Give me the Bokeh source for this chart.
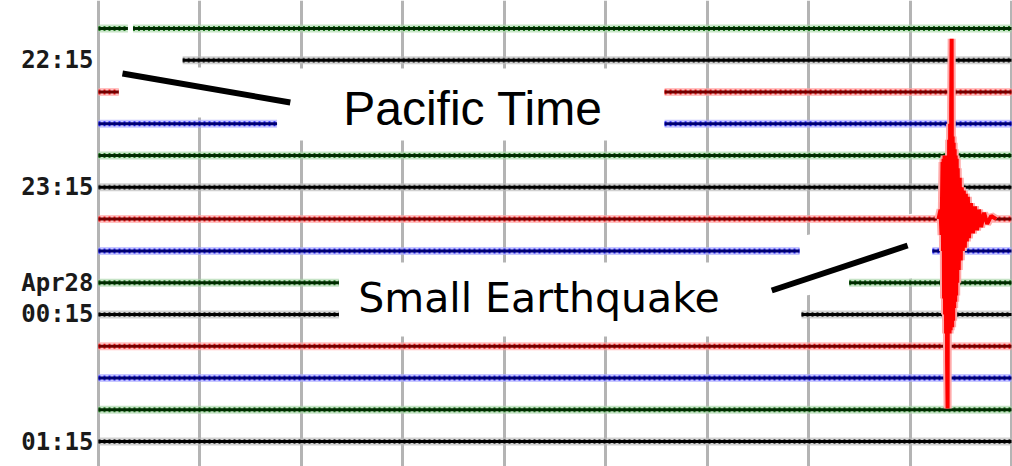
from bokeh.plotting import figure
from bokeh.models import Range1d, FixedTicker, Grid, ColumnDataSource
from bokeh.core.properties import value
from bokeh.embed import file_html
from bokeh.resources import INLINE

# ---------------- data ----------------
# y: trace row (15 minutes per row, row 0 = 22:00); x: seconds within row
row_tick_rows = [1, 5, 8, 9, 13]
row_tick_labels = ["22:15", "23:15", "Apr28", "00:15", "01:15"]
grid_seconds = [0, 100, 200, 300, 400, 500, 600, 700, 800, 900]

# visible recorded pieces of each trace (row, start s, end s)
seg_row = [0, 0, 1, 2, 2, 3, 3, 4, 5, 6, 7, 7, 8, 8, 9, 9, 10, 11, 12, 13]
seg_start = [0, 34, 83, 0, 558, 0, 558, 0, 0, 0, 0, 822, 0, 740, 0, 693, 0, 0, 0, 0]
seg_end = [29, 900, 900, 20, 900, 176, 900, 900, 900, 900, 691, 900, 237, 900, 237, 900, 900, 900, 900, 900]

# the small earthquake on the red trace (row 6): time (s) and amplitude (rows, + = up)
quake_row = 6
quake_t = [828, 830, 831, 832, 832.5, 833, 833.5, 834, 834.5, 835, 835.5, 836, 836.5, 837,
           837.5, 838, 838.5, 839, 839.5, 840, 840.5, 841, 841.5, 842, 842.5, 843, 843.5,
           844, 844.5, 845, 845.5, 846, 846.5, 847, 848, 849, 850, 851, 852, 853, 854, 855,
           856, 857, 858, 860, 862, 864, 866, 868, 870, 873, 876, 880, 885]
quake_amp = [0, 0.3, -0.5, 1.8, -1.0, 1.9, -2.5, 2.0, -3.0, 1.8, -3.6, 2.0, -4.5, -5.96,
             1.5, -3.5, 2.5, -3.6, 3.0, -3.5, 3.5, 5.68, -3.4, 2.6, -3.2, 2.4, -2.8,
             2.2, -2.6, 2.0, -2.4, 1.9, -2.0, 1.6, -1.6, 1.3, -1.3, 1.0, -1.0, 0.9, -0.9, 0.8,
             -0.7, 0.7, -0.6, 0.5, -0.45, 0.4, -0.35, 0.3, -0.25, 0.2, -0.15, 0.1, 0]

note_texts = ["Pacific Time", "Small Earthquake"]

# ---------------- pixel helpers (layout) ----------------
K = 914 / 900.0
def X(px):
    return (px - 98) / K
def Y(px):
    return (px - 28) / 31.77

W, H = 1012, 466
p = figure(width=W, height=H, output_backend="svg", toolbar_location=None,
           x_range=Range1d(X(96), X(W + 1)), y_range=Range1d(Y(H), Y(0)),
           x_axis_location=None, y_axis_location="left",
           min_border_left=96, min_border_right=0, min_border_top=0, min_border_bottom=0,
           outline_line_color=None, background_fill_color="white", border_fill_color="white")
p.grid.visible = False

g = Grid(dimension=0, ticker=FixedTicker(ticks=grid_seconds),
         grid_line_color="#b4b4b4", grid_line_width=3)
p.add_layout(g)

yax = p.yaxis[0]
yax.ticker = FixedTicker(ticks=row_tick_rows)
yax.major_label_overrides = {r: l for r, l in zip(row_tick_rows, row_tick_labels)}
yax.axis_line_color = None
yax.major_tick_line_color = None
yax.minor_tick_line_color = None
yax.major_tick_out = 0
yax.major_tick_in = 0
yax.major_label_standoff = 3
yax.major_label_text_font = "DejaVu Sans Mono"
yax.major_label_text_font_style = "bold"
yax.major_label_text_font_size = "24px"
yax.major_label_text_color = "#1a1a1a"

# white boxes behind the annotation texts
p.quad(left=[X(110), X(290), X(340)], right=[X(290), X(668), X(800)],
       top=[Y(67), Y(68), Y(262)], bottom=[Y(117), Y(140), Y(336)],
       fill_color="white", line_color=None)
p.patch(x=[X(800), X(918), X(918), X(800)], y=[Y(236), Y(212), Y(277), Y(296)],
        fill_color="white", line_color=None)

light = ["#a8d4a8", "#b8b8b8", "#ffa0a0", "#a8a8ff"]
mid = ["#1f7a1f", "#505050", "#ff1010", "#2020ff"]
dark = ["#002a00", "#000000", "#700000", "#000070"]
src = ColumnDataSource(dict(
    x0=seg_start, x1=seg_end, y=seg_row,
    light=[light[r % 4] for r in seg_row],
    mid=[mid[r % 4] for r in seg_row],
    dark=[dark[r % 4] for r in seg_row],
))
p.segment(x0="x0", y0="y", x1="x1", y1="y", line_color="light", line_width=8, line_alpha=0.65, source=src)
p.segment(x0="x0", y0="y", x1="x1", y1="y", line_color="mid", line_width=5, line_dash="2 3", source=src)
p.segment(x0="x0", y0="y", x1="x1", y1="y", line_color="dark", line_width=3, source=src)

qy = [quake_row - a for a in quake_amp]
p.line(quake_t, qy, line_color="#ffaaaa", line_width=8)
p.line(quake_t, qy, line_color="#ff0000", line_width=4)

# pointers
p.line([X(122), X(290)], [Y(73), Y(102)], line_color="black", line_width=6)
p.line([X(772), X(908)], [Y(290), Y(245)], line_color="black", line_width=6)

p.text(x=[X(343)], y=[Y(108)], text=[note_texts[0]], text_font=value("Liberation Sans"),
       text_font_size=value("48px"), text_baseline="alphabetic", text_align="left", text_color="black")
p.text(x=[X(358)], y=[Y(297)], text=[note_texts[1]], text_font=value("DejaVu Sans"),
       text_font_size=value("41px"), text_baseline="alphabetic", text_align="left", text_color="black")

open("out.html", "w").write(file_html(p, INLINE))
